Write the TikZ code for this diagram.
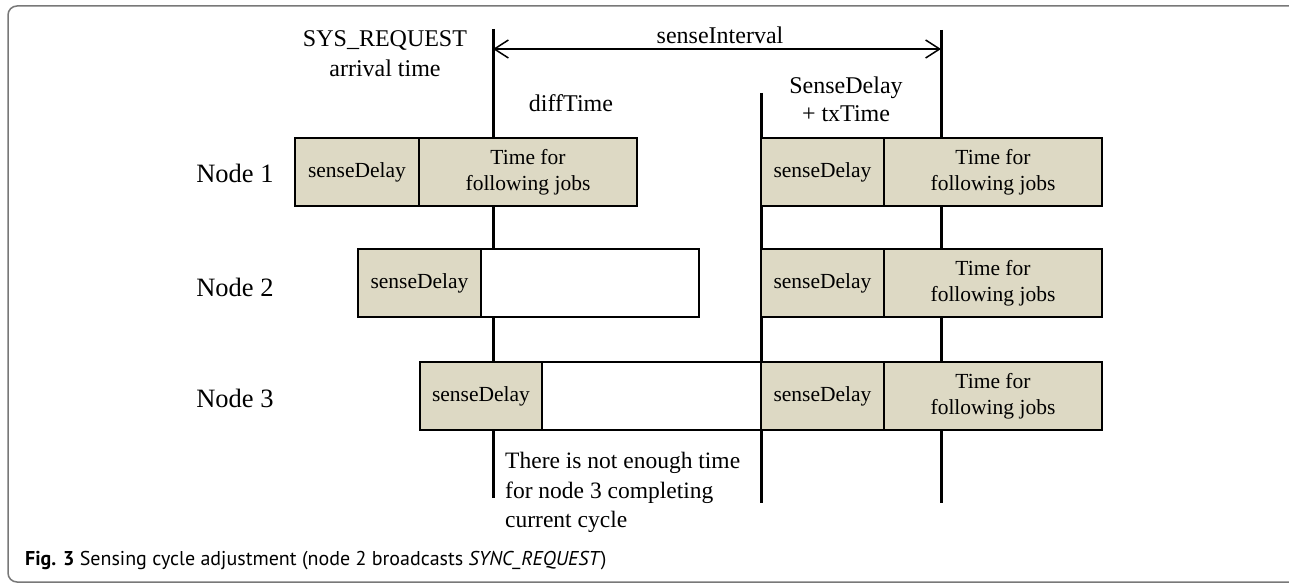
\documentclass[tikz,border=0pt]{standalone}
\usepackage{fontspec}
\setmainfont{Liberation Serif}
\newfontfamily\capfont{PT Sans}
\usetikzlibrary{positioning,arrows.meta}
\definecolor{tan}{RGB}{221,217,196}
\definecolor{framegray}{RGB}{120,120,120}

\begin{document}
\begin{tikzpicture}[x=1pt,y=-1pt,>={Straight Barb[length=14pt,width=18pt]},
    slot/.style={draw,line width=1.6pt,outer sep=0pt,inner sep=0pt,minimum height=68pt,align=center,font=\fontsize{21.5}{26}\selectfont},
    busy/.style={slot,fill=tan},
    idle/.style={slot,fill=white},
    tick/.style={line width=3pt},
    lbl/.style={align=center,font=\fontsize{24}{30}\selectfont},
    row/.style={font=\fontsize{26.5}{30}\selectfont}]
    \useasboundingbox (0,0) rectangle (1289,583);
    \draw[framegray,line width=1.5pt,rounded corners=9pt] (1330,6) -- (8,6) -- (8,582) -- (1330,582);

    % time markers
    \coordinate (req) at (493,29);  \coordinate (reqend) at (493,498);
    \coordinate (adj) at (761,93);  \coordinate (adjend) at (761,503);
    \coordinate (nxt) at (941,30);  \coordinate (nxtend) at (941,503);
    \draw[tick] (req) -- (reqend);
    \draw[tick] (adj) -- (adjend);
    \draw[tick] (nxt) -- (nxtend);
    \coordinate (ia) at (493,49); \coordinate (ib) at (941,49);
    \draw[<->,line width=1.5pt] (ia) -- (ib);

    \node[lbl] (sint) at (720,35) {senseInterval};
    \node[lbl] (sys) at (385,54) {SYS\_REQUEST\\arrival time};
    \node[lbl] (diff) at (571,103) {diffTime};
    \node[lbl,font=\fontsize{24}{28}\selectfont] (stx) at (846,99) {SenseDelay\\+ txTime};

    % node 1
    \node[row] (n1) at (235,173) {Node 1};
    \node[busy,minimum width=124pt,anchor=north west] (d11) at (295,138) {senseDelay};
    \node[busy,minimum width=218pt,right=0pt of d11] (j11) {Time for\\following jobs};
    \node[busy,minimum width=123pt,anchor=north west] (d12) at (761,138) {senseDelay};
    \node[busy,minimum width=218pt,right=0pt of d12] (j12) {Time for\\following jobs};

    % node 2
    \node[row] (n2) at (235,287) {Node 2};
    \node[busy,minimum width=123pt,anchor=north west] (d21) at (358,249) {senseDelay};
    \node[idle,minimum width=218pt,right=0pt of d21] (w21) {};
    \node[busy,minimum width=123pt,anchor=north west] (d22) at (761,249) {senseDelay};
    \node[busy,minimum width=218pt,right=0pt of d22] (j22) {Time for\\following jobs};

    % node 3
    \node[row] (n3) at (235,398) {Node 3};
    \node[busy,minimum width=122pt,anchor=north west] (d31) at (420,362) {senseDelay};
    \node[idle,minimum width=219pt,right=0pt of d31] (w31) {};
    \node[busy,minimum width=123pt,right=0pt of w31] (d32) {senseDelay};
    \node[busy,minimum width=218pt,right=0pt of d32] (j32) {Time for\\following jobs};

    \node[anchor=north west,align=left,inner sep=0pt,font=\fontsize{23.5}{29.5}\selectfont] (note) at (505,452)
      {There is not enough time\\for node 3 completing\\current cycle};

    \node[anchor=base west,inner sep=0pt,font=\capfont\fontsize{20}{23}\selectfont] (cap) at (25,565)
      {\textbf{Fig. 3} Sensing cycle adjustment (node 2 broadcasts \textit{SYNC\_REQUEST})};
\end{tikzpicture}
\end{document}
